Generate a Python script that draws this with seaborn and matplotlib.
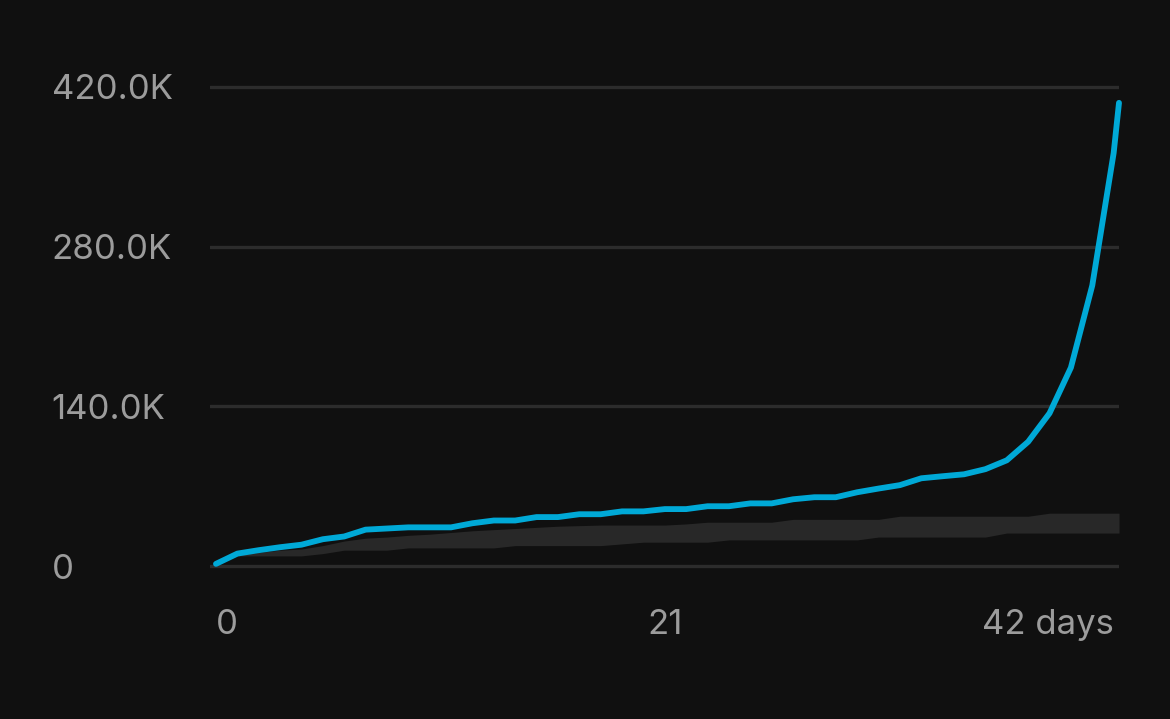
import matplotlib
matplotlib.use('Agg')

import numpy as np
import pandas as pd
import matplotlib.pyplot as plt
import seaborn as sns

# =========================
# DATA
# =========================
days = [0, 1, 2, 3, 4, 5, 6, 7, 8, 9, 10, 11, 12, 13, 14, 15, 16, 17, 18, 19, 20,
        21, 22, 23, 24, 25, 26, 27, 28, 29, 30, 31, 32, 33, 34, 35, 36, 37, 38, 39,
        40, 41, 42, 42.25]

views = [2000, 11000, 14000, 16600, 18800, 23600, 26000, 32000, 33000, 34000, 34000,
         34000, 37600, 40000, 40000, 43000, 43000, 45500, 45500, 48000, 48000,
         50000, 50000, 52500, 52500, 55000, 55000, 58600, 60400, 60400, 64750,
         68000, 71000, 77000, 78800, 80500, 85000, 92750, 109000, 134000,
         174000, 246000, 362000, 406000]

# typical range band
band_low = [1000, 9000, 9000, 9000, 9000, 11000, 14000, 14000, 14000, 16000, 16000,
            16000, 16000, 16000, 18000, 18000, 18000, 18000, 18000, 19500, 21000,
            21000, 21000, 21000, 23000, 23000, 23000, 23000, 23000, 23000, 23000,
            25500, 25500, 25500, 25500, 25500, 25500, 29000, 29000, 29000,
            29000, 29000, 29000, 29000]

band_high = [2000, 10000, 12000, 14000, 15000, 18000, 22000, 24500, 25500, 27000, 28000,
             29500, 31000, 32000, 33000, 34000, 35000, 35500, 36000, 36000, 36000,
             36000, 37000, 38500, 38500, 38500, 38500, 41000, 41000, 41000, 41000,
             41000, 43750, 43750, 43750, 43750, 43750, 43750, 43750, 46400,
             46400, 46400, 46400, 46400]

y_ticks = [0, 140000, 280000, 420000]
y_labels = ['0', '140.0K', '280.0K', '420.0K']
x_ticks = [0, 21, 42]
x_labels = ['0', '21', '42 days']

df = pd.DataFrame({'day': days, 'views': views, 'low': band_low, 'high': band_high})

# =========================
# STYLE
# =========================
bg = '#101010'
sns.set_theme(style='dark')
plt.rcParams['font.family'] = ['Inter', 'DejaVu Sans']

W, H = 1170, 719
fig = plt.figure(figsize=(W / 100, H / 100), dpi=100, facecolor=bg)
ax = fig.add_axes([210 / W, 1 - 573 / H, (1119 - 210) / W, (573 - 80) / H])
ax.set_facecolor(bg)

# band + line
ax.fill_between(df['day'], df['low'], df['high'], color='#282828', lw=0, zorder=1)
sns.lineplot(data=df, x='day', y='views', ax=ax, color='#00a9d7', lw=4.2,
             zorder=3, clip_on=False)

ax.set_xlim(-0.28, 42.25)
ax.set_ylim(-6000, 426000)

# grid
ax.set_yticks(y_ticks)
ax.set_yticklabels(y_labels)
ax.set_xticks(x_ticks)
ax.set_xticklabels(x_labels)
ax.grid(axis='y', color='#2c2c2c', lw=2.4)
ax.grid(axis='x', visible=False)

for s in ax.spines.values():
    s.set_visible(False)

ax.tick_params(axis='y', length=0, pad=114, labelsize=25, labelcolor='#9c9c9c')
ax.tick_params(axis='x', length=0, pad=26, labelsize=25, labelcolor='#9c9c9c')
for lbl in ax.get_yticklabels():
    lbl.set_horizontalalignment('left')
xl = ax.get_xticklabels()
xl[0].set_horizontalalignment('left')
xl[-1].set_horizontalalignment('right')

ax.set_xlabel('')
ax.set_ylabel('')

plt.savefig('out.png', dpi=100, facecolor=bg)
print('Saved: out.png')
